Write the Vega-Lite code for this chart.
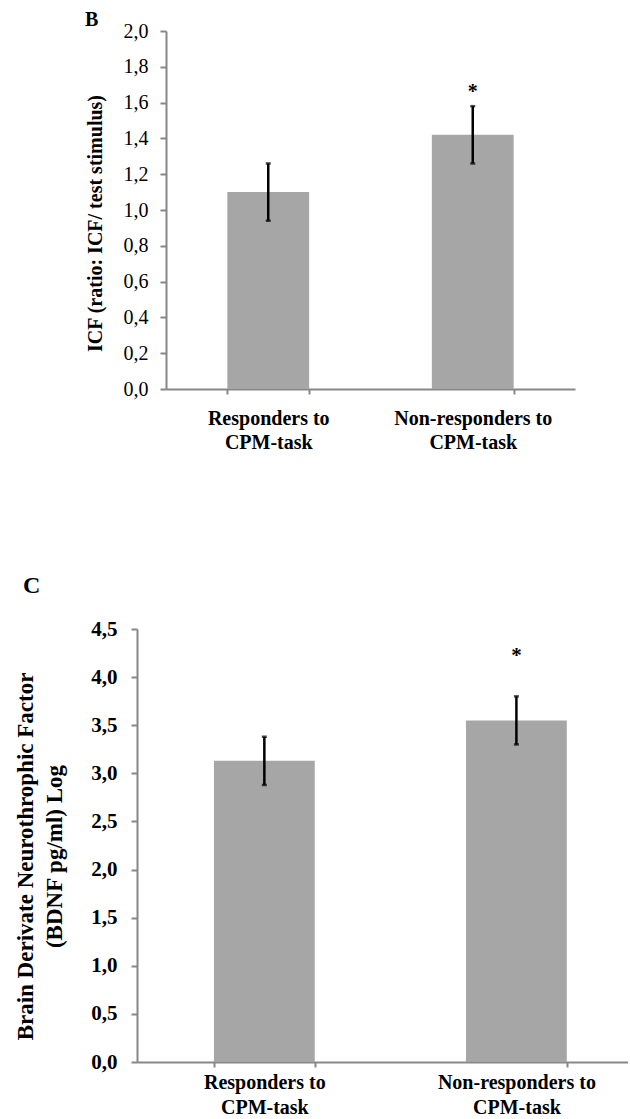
{
  "$schema": "https://vega.github.io/schema/vega-lite/v6.json",
  "padding": {"left": 14, "top": 10, "right": 0, "bottom": 0},
  "spacing": 122,
  "config": {
    "font": "Liberation Serif",
    "view": {"stroke": null},
    "axis": {
      "domainColor": "#878787",
      "domainWidth": 2,
      "tickColor": "#878787",
      "tickWidth": 2,
      "grid": false,
      "labelOverlap": false,
      "labelColor": "#000000",
      "titleColor": "#000000",
      "labelFont": "Liberation Serif",
      "titleFont": "Liberation Serif"
    },
    "title": {"font": "Liberation Serif", "color": "#000000"}
  },
  "datasets": {
    "icf": [
      {"group": "Responders to CPM-task", "mean": 1.10, "lo": 0.94, "hi": 1.26, "sig": ""},
      {"group": "Non-responders to CPM-task", "mean": 1.42, "lo": 1.26, "hi": 1.58, "sig": "*"}
    ],
    "bdnf": [
      {"group": "Responders to CPM-task", "mean": 3.13, "lo": 2.88, "hi": 3.38, "sig": ""},
      {"group": "Non-responders to CPM-task", "mean": 3.55, "lo": 3.30, "hi": 3.80, "sig": "*"}
    ]
  },
  "vconcat": [
    {
      "title": {"text": "B", "anchor": "start", "frame": "group", "dx": -52, "fontSize": 20, "fontWeight": "bold", "offset": -9},
      "width": 438,
      "height": 358,
      "data": {"name": "icf"},
      "encoding": {
        "x": {
          "field": "group", "type": "nominal", "sort": null,
          "scale": {"range": [29, 438], "paddingInner": 0.6, "paddingOuter": 0.3},
          "axis": {
            "title": null, "labelAngle": 0, "tickBand": "extent", "tickSize": 5,
            "labelFontSize": 20, "labelFontWeight": "bold", "labelPadding": 14, "labelLineHeight": 24,
            "labelExpr": "datum.label ? [replace(datum.label, ' CPM-task', ''), 'CPM-task'] : ''"
          }
        }
      },
      "layer": [
        {
          "mark": {"type": "bar", "color": "#a6a6a6"},
          "encoding": {
            "y": {
              "field": "mean", "type": "quantitative",
              "title": "ICF (ratio: ICF/ test stimulus)",
              "scale": {"domain": [0, 2], "nice": false},
              "axis": {
                "offset": -29, "labelOverlap": false,
                "values": [0, 0.2, 0.4, 0.6, 0.8, 1.0, 1.2, 1.4, 1.6, 1.8, 2.0],
                "labelExpr": "replace(format(datum.value, '.1f'), '.', ',')",
                "labelFontSize": 20, "labelPadding": 12, "tickSize": 6,
                "titleFontSize": 20, "titleFontWeight": "bold", "titlePadding": 18, "titleY": 192
              }
            }
          }
        },
        {
          "mark": {"type": "errorbar", "color": "#000000", "thickness": 2.5, "ticks": {"size": 5, "thickness": 2.5, "color": "#000000"}},
          "encoding": {
            "y": {
              "field": "lo", "type": "quantitative",
              "title": "ICF (ratio: ICF/ test stimulus)",
              "axis": {
                "offset": -29, "labelOverlap": false,
                "values": [0, 0.2, 0.4, 0.6, 0.8, 1.0, 1.2, 1.4, 1.6, 1.8, 2.0],
                "labelExpr": "replace(format(datum.value, '.1f'), '.', ',')",
                "labelFontSize": 20, "labelPadding": 12, "tickSize": 6,
                "titleFontSize": 20, "titleFontWeight": "bold", "titlePadding": 18, "titleY": 192
              }
            },
            "y2": {"field": "hi"}
          }
        },
        {
          "mark": {"type": "text", "fontSize": 20, "fontWeight": "bold", "baseline": "middle", "dy": -14},
          "encoding": {
            "y": {
              "field": "hi", "type": "quantitative",
              "title": "ICF (ratio: ICF/ test stimulus)",
              "axis": {
                "offset": -29, "labelOverlap": false,
                "values": [0, 0.2, 0.4, 0.6, 0.8, 1.0, 1.2, 1.4, 1.6, 1.8, 2.0],
                "labelExpr": "replace(format(datum.value, '.1f'), '.', ',')",
                "labelFontSize": 20, "labelPadding": 12, "tickSize": 6,
                "titleFontSize": 20, "titleFontWeight": "bold", "titlePadding": 18, "titleY": 192
              }
            },
            "text": {"field": "sig"}
          }
        }
      ]
    },
    {
      "title": {"text": "C", "anchor": "start", "frame": "group", "dx": -114, "fontSize": 24, "fontWeight": "bold", "offset": 20},
      "width": 491,
      "height": 433,
      "data": {"name": "bdnf"},
      "encoding": {
        "x": {
          "field": "group", "type": "nominal", "sort": null,
          "scale": {"paddingInner": 0.6, "paddingOuter": 0.274, "align": 0.557},
          "axis": {
            "title": null, "labelAngle": 0, "tickBand": "extent", "tickSize": 5,
            "labelFontSize": 20, "labelFontWeight": "bold", "labelPadding": 5, "labelLineHeight": 25,
            "labelExpr": "datum.label ? [replace(datum.label, ' CPM-task', ''), 'CPM-task'] : ''"
          }
        }
      },
      "layer": [
        {
          "mark": {"type": "bar", "color": "#a6a6a6"},
          "encoding": {
            "y": {
              "field": "mean", "type": "quantitative",
              "title": ["Brain Derivate Neurothrophic Factor", "(BDNF pg/ml) Log"],
              "scale": {"domain": [0, 4.5], "nice": false},
              "axis": {
                "values": [0, 0.5, 1.0, 1.5, 2.0, 2.5, 3.0, 3.5, 4.0, 4.5],
                "labelExpr": "replace(format(datum.value, '.1f'), '.', ',')",
                "labelFontSize": 21, "labelFontWeight": "bold", "labelPadding": 14, "tickSize": 6,
                "titleFontSize": 23, "titleFontWeight": "bold", "titlePadding": 24, "titleLineHeight": 29, "titleY": 227
              }
            }
          }
        },
        {
          "mark": {"type": "errorbar", "color": "#000000", "thickness": 2.5, "ticks": {"size": 5, "thickness": 2.5, "color": "#000000"}},
          "encoding": {
            "y": {"field": "lo", "type": "quantitative", "title": ["Brain Derivate Neurothrophic Factor", "(BDNF pg/ml) Log"]},
            "y2": {"field": "hi"}
          }
        },
        {
          "mark": {"type": "text", "fontSize": 21, "fontWeight": "bold", "baseline": "middle", "dy": -40},
          "encoding": {
            "y": {"field": "hi", "type": "quantitative", "title": ["Brain Derivate Neurothrophic Factor", "(BDNF pg/ml) Log"]},
            "text": {"field": "sig"}
          }
        }
      ]
    }
  ]
}
